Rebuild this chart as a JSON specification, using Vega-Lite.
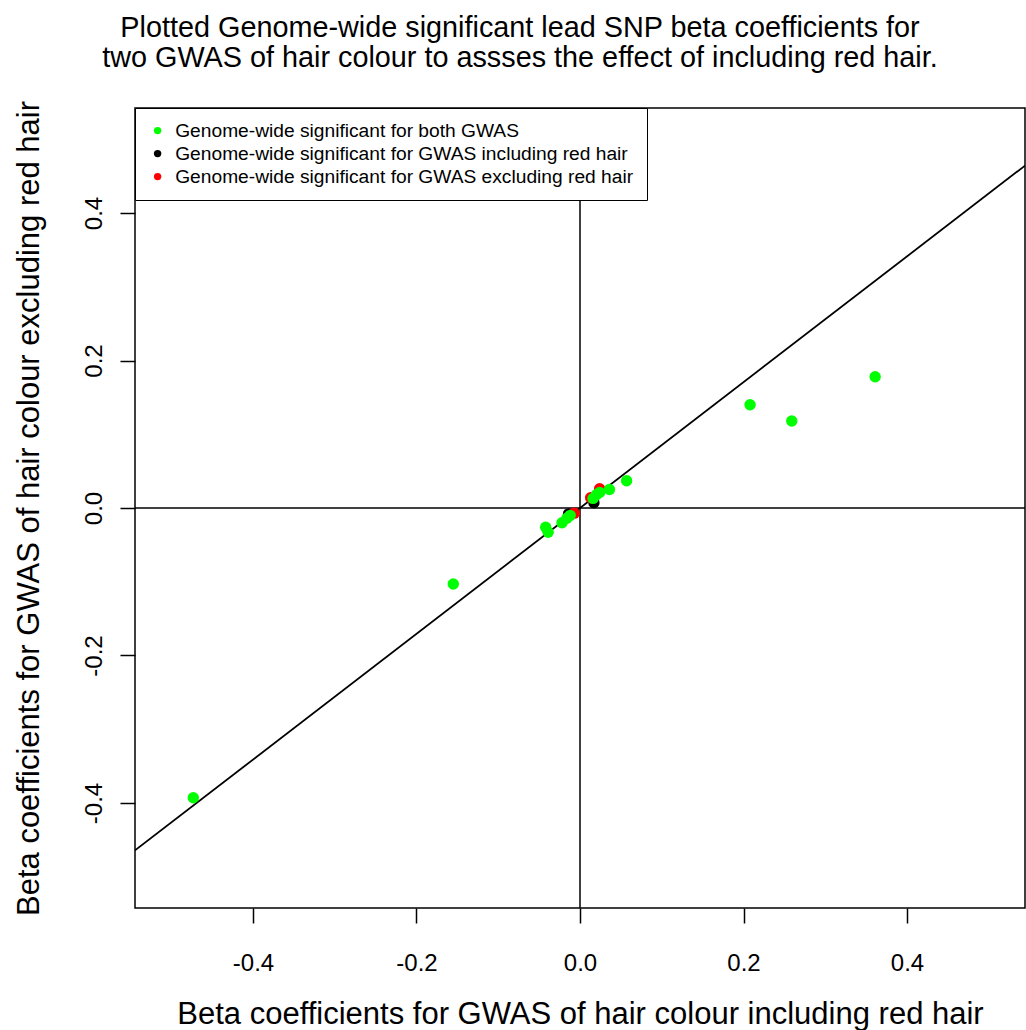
{
  "$schema": "https://vega.github.io/schema/vega-lite/v6.json",
  "autosize": "none",
  "padding": {"left": 135, "top": 108, "right": 1, "bottom": 122},
  "width": 890,
  "height": 800,
  "background": "white",
  "config": {
    "font": "Liberation Sans",
    "locale": {"number": {"decimal": ".", "thousands": ",", "grouping": [3], "currency": ["$", ""], "minus": "-"}},
    "view": {"stroke": "black", "strokeWidth": 1.5},
    "axis": {"grid": false, "domain": false, "labelColor": "black", "titleColor": "black", "tickColor": "black", "tickWidth": 1.5, "labelFont": "Liberation Sans", "titleFont": "Liberation Sans", "titleFontWeight": "normal"}
  },
  "title": {
    "text": ["Plotted Genome-wide significant lead SNP beta coefficients for", "two GWAS of hair colour to assses the effect of including red hair."],
    "font": "Liberation Sans",
    "fontSize": 28.8,
    "fontWeight": "normal",
    "color": "black",
    "anchor": "middle",
    "dx": -60,
    "lineHeight": 30,
    "offset": 28
  },
  "layer": [
    {
      "data": {"values": [{"v": 0}]},
      "mark": {"type": "rule", "color": "black", "strokeWidth": 1.5},
      "encoding": {"x": {"field": "v", "type": "quantitative", "scale": {"domain": [-0.5443, 0.5443], "nice": false, "zero": false}}}
    },
    {
      "data": {"values": [{"v": 0}]},
      "mark": {"type": "rule", "color": "black", "strokeWidth": 1.5},
      "encoding": {"y": {"field": "v", "type": "quantitative", "scale": {"domain": [-0.5424, 0.5424], "nice": false, "zero": false}}}
    },
    {
      "data": {"values": [{"bx": -0.5443, "by": -0.4643}, {"bx": 0.5443, "by": 0.4643}]},
      "mark": {"type": "line", "color": "black", "strokeWidth": 1.8, "clip": true},
      "encoding": {
        "x": {"field": "bx", "type": "quantitative"},
        "y": {"field": "by", "type": "quantitative"}
      }
    },
    {
      "data": {"values": [
        {"beta_incl": -0.014, "beta_excl": -0.008, "group": "Genome-wide significant for GWAS including red hair"},
        {"beta_incl": 0.017, "beta_excl": 0.007, "group": "Genome-wide significant for GWAS including red hair"},
        {"beta_incl": -0.007, "beta_excl": -0.007, "group": "Genome-wide significant for GWAS excluding red hair"},
        {"beta_incl": 0.013, "beta_excl": 0.014, "group": "Genome-wide significant for GWAS excluding red hair"},
        {"beta_incl": 0.024, "beta_excl": 0.026, "group": "Genome-wide significant for GWAS excluding red hair"},
        {"beta_incl": -0.473, "beta_excl": -0.393, "group": "Genome-wide significant for both GWAS"},
        {"beta_incl": -0.155, "beta_excl": -0.103, "group": "Genome-wide significant for both GWAS"},
        {"beta_incl": 0.208, "beta_excl": 0.140, "group": "Genome-wide significant for both GWAS"},
        {"beta_incl": 0.259, "beta_excl": 0.118, "group": "Genome-wide significant for both GWAS"},
        {"beta_incl": 0.361, "beta_excl": 0.178, "group": "Genome-wide significant for both GWAS"},
        {"beta_incl": 0.057, "beta_excl": 0.037, "group": "Genome-wide significant for both GWAS"},
        {"beta_incl": -0.042, "beta_excl": -0.026, "group": "Genome-wide significant for both GWAS"},
        {"beta_incl": -0.039, "beta_excl": -0.033, "group": "Genome-wide significant for both GWAS"},
        {"beta_incl": -0.022, "beta_excl": -0.020, "group": "Genome-wide significant for both GWAS"},
        {"beta_incl": -0.016, "beta_excl": -0.014, "group": "Genome-wide significant for both GWAS"},
        {"beta_incl": -0.012, "beta_excl": -0.010, "group": "Genome-wide significant for both GWAS"},
        {"beta_incl": 0.016, "beta_excl": 0.013, "group": "Genome-wide significant for both GWAS"},
        {"beta_incl": 0.020, "beta_excl": 0.018, "group": "Genome-wide significant for both GWAS"},
        {"beta_incl": 0.024, "beta_excl": 0.021, "group": "Genome-wide significant for both GWAS"},
        {"beta_incl": 0.036, "beta_excl": 0.025, "group": "Genome-wide significant for both GWAS"}
      ]},
      "mark": {"type": "point", "filled": true, "opacity": 1, "size": 130, "shape": "circle"},
      "encoding": {
        "x": {
          "field": "beta_incl", "type": "quantitative",
          "axis": {"title": "Beta coefficients for GWAS of hair colour including red hair", "values": [-0.4, -0.2, 0, 0.2, 0.4], "format": ".1f", "tickSize": 15, "labelFontSize": 24, "labelPadding": 28, "titleFontSize": 31, "titlePadding": 24}
        },
        "y": {
          "field": "beta_excl", "type": "quantitative",
          "axis": {"title": "Beta coefficients for GWAS of hair colour excluding red hair", "values": [-0.4, -0.2, 0, 0.2, 0.4], "format": ".1f", "tickSize": 15, "labelFontSize": 24, "labelAngle": -90, "labelAlign": "center", "labelBaseline": "bottom", "labelPadding": 14, "titleFontSize": 31, "titlePadding": 37}
        },
        "color": {
          "field": "group", "type": "nominal",
          "scale": {"domain": ["Genome-wide significant for both GWAS", "Genome-wide significant for GWAS including red hair", "Genome-wide significant for GWAS excluding red hair"], "range": ["#00FF00", "#000000", "#FF0000"]},
          "legend": {"title": null, "orient": "top-left", "offset": 0, "padding": 13, "strokeColor": "black", "fillColor": "white", "cornerRadius": 0, "symbolType": "circle", "symbolSize": 55, "symbolStrokeWidth": 0, "labelFontSize": 19.2, "labelColor": "black", "labelOffset": 8, "rowPadding": 3, "labelLimit": 600}
        }
      }
    }
  ]
}
